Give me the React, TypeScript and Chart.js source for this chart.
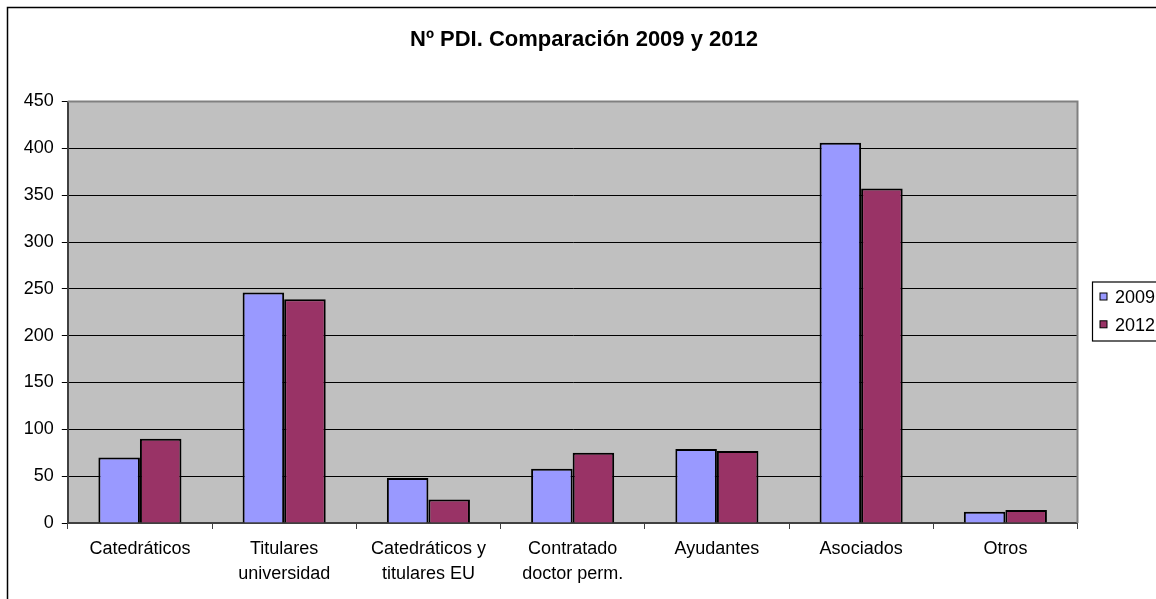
import React, { useEffect, useRef } from "react";
import { Chart, registerables } from "chart.js";

Chart.register(...registerables);

const title = "Nº PDI. Comparación 2009 y 2012";
const categories: (string | string[])[] = [
  "Catedráticos",
  ["Titulares", "universidad"],
  ["Catedráticos y", "titulares EU"],
  ["Contratado", "doctor perm."],
  "Ayudantes",
  "Asociados",
  "Otros",
];
const seriesNames = ["2009", "2012"];
const values2009 = [70, 246, 48, 58, 79, 406, 12];
const values2012 = [90, 239, 25, 75, 77, 357, 14];
const yMin = 0;
const yMax = 450;
const yStep = 50;

const FONT = "'Liberation Sans', Arial, sans-serif";
const colors = ["#9999FF", "#993366"];

const plotBgPlugin = {
  id: "plotBg",
  beforeDraw(chart: any) {
    const { ctx, chartArea: a } = chart;
    ctx.save();
    ctx.fillStyle = "#C0C0C0";
    ctx.fillRect(a.left, a.top, a.right - a.left, a.bottom - a.top);
    ctx.restore();
  },
  beforeDatasetsDraw(chart: any) {
    const { ctx, chartArea: a } = chart;
    ctx.save();
    ctx.strokeStyle = "#808080";
    ctx.lineWidth = 2;
    ctx.beginPath();
    ctx.moveTo(a.left, a.top);
    ctx.lineTo(a.right, a.top);
    ctx.lineTo(a.right, a.bottom);
    ctx.stroke();
    ctx.restore();
  },
  afterDraw(chart: any) {
    const { ctx } = chart;
    ctx.save();
    // outer chart frame
    ctx.strokeStyle = "#000";
    ctx.lineWidth = 1.5;
    ctx.beginPath();
    ctx.moveTo(7.5, chart.height + 2);
    ctx.lineTo(7.5, 7.5);
    ctx.lineTo(chart.width + 2, 7.5);
    ctx.stroke();

    // legend
    const lx = 1092.5;
    const ly = 282;
    ctx.strokeStyle = "#000";
    ctx.lineWidth = 1.2;
    ctx.strokeRect(lx, ly, 120, 59);
    ctx.font = `18px ${FONT}`;
    ctx.textBaseline = "middle";
    ctx.textAlign = "left";
    chart.data.datasets.forEach((ds: any, i: number) => {
      const cy = 296.5 + i * 27.8;
      ctx.fillStyle = ds.backgroundColor;
      ctx.fillRect(1100, cy - 3.5, 7, 7);
      ctx.lineWidth = 1;
      ctx.strokeStyle = "#000";
      ctx.strokeRect(1100, cy - 3.5, 7, 7);
      ctx.fillStyle = "#000";
      ctx.fillText(ds.label, 1115, cy + 1.5);
    });
    ctx.restore();
  },
};

export default function App() {
  const ref = useRef<HTMLCanvasElement>(null);

  useEffect(() => {
    if (!ref.current) return;
    const chart = new Chart(ref.current, {
      type: "bar",
      data: {
        labels: categories,
        datasets: [
          {
            label: seriesNames[0],
            data: values2009,
            backgroundColor: colors[0],
            borderColor: "#000",
            borderWidth: 2,
          },
          {
            label: seriesNames[1],
            data: values2012,
            backgroundColor: colors[1],
            borderColor: "#000",
            borderWidth: 2,
          },
        ],
      },
      options: {
        animation: false,
        responsive: false,
        devicePixelRatio: 1,
        datasets: {
          bar: { categoryPercentage: 0.576, barPercentage: 1 },
        },
        layout: { padding: { left: 0, right: 0, top: 0, bottom: 0 } },
        plugins: {
          legend: { display: false },
          tooltip: { enabled: false },
          title: {
            display: true,
            text: title,
            color: "#000",
            font: { family: FONT, size: 22, weight: "bold", lineHeight: 1.2 },
            padding: { top: 27, bottom: 48.1 },
          },
        },
        scales: {
          x: {
            afterFit: (s: any) => {
              s.height = 76;
            },
            grid: {
              display: true,
              drawOnChartArea: false,
              drawTicks: true,
              offset: true,
              tickLength: 6,
              color: "#404040",
              lineWidth: 1,
            },
            border: { display: true, color: "#404040", width: 2 },
            ticks: {
              color: "#000",
              padding: 8,
              maxRotation: 0,
              autoSkip: false,
              font: { family: FONT, size: 18, lineHeight: 1.36 },
            },
          },
          y: {
            min: yMin,
            max: yMax,
            afterFit: (s: any) => {
              s.width = 67.8;
            },
            grid: {
              color: "#000",
              lineWidth: 1,
              tickLength: 6,
              drawTicks: true,
            },
            border: { display: true, color: "#404040", width: 2 },
            ticks: {
              stepSize: yStep,
              color: "#000",
              padding: 8,
              font: { family: FONT, size: 18 },
            },
          },
          legendSpace: {
            type: "linear",
            position: "right",
            display: true,
            afterFit: (s: any) => {
              s.width = 90.5;
            },
            grid: { display: false, drawTicks: false },
            border: { display: false },
            ticks: { display: false },
          },
        },
      },
      plugins: [plotBgPlugin],
    });
    return () => chart.destroy();
  }, []);

  return (
    <div
      style={{
        position: "fixed",
        left: 0,
        top: 0,
        width: 1156,
        height: 599,
        overflow: "hidden",
        background: "#fff",
      }}
    >
      <canvas
        ref={ref}
        width={1168}
        height={599}
        style={{ display: "block", width: 1168, height: 599 }}
      />
    </div>
  );
}
